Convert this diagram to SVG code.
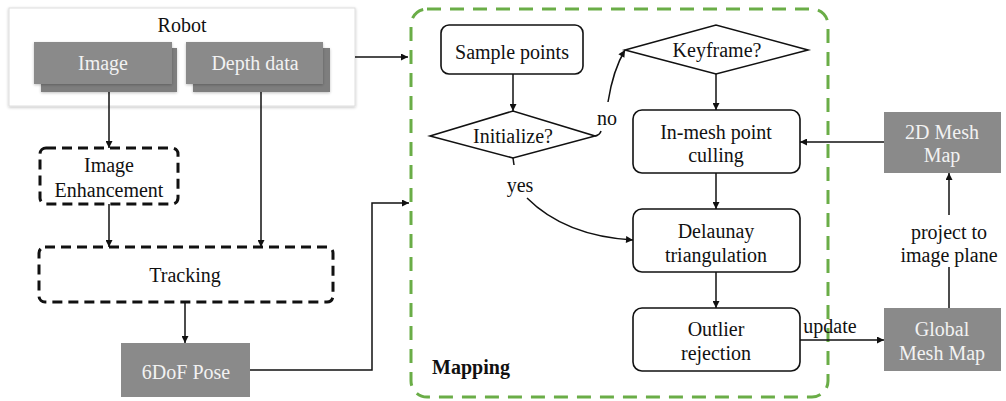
<svg xmlns="http://www.w3.org/2000/svg" width="1006" height="401" viewBox="0 0 1006 401">
  <style>
    text { font-family: "Liberation Serif", Tinos, "Times New Roman", Times, "DejaVu Serif", serif; font-size: 20px; text-anchor: middle; }
    .dark { fill: #111111; }
    .light { fill: #f2f2f2; }
    .gray { fill: #8a8a8a; }
    .shade { fill: #7e7e7e; }
    .proc { fill: #ffffff; stroke: #111111; stroke-width: 1.6; }
    .dash { fill: #ffffff; stroke: #111111; stroke-width: 3; stroke-dasharray: 10 6; }
    .wire { fill: none; stroke: #111111; stroke-width: 1.5; }
    .arrow { fill: none; stroke: #111111; stroke-width: 1.5; marker-end: url(#head); }
  </style>
  <defs>
    <marker id="head" viewBox="0 0 10 10" refX="10" refY="5" markerWidth="9" markerHeight="7" markerUnits="userSpaceOnUse" orient="auto">
      <path d="M0,0 L10,5 L0,10 Z" fill="#111111"/>
    </marker>
    <filter id="soft" x="-10%" y="-20%" width="120%" height="140%">
      <feGaussianBlur in="SourceAlpha" stdDeviation="1.5"/>
      <feOffset dx="0" dy="1" result="b"/>
      <feComponentTransfer><feFuncA type="linear" slope="0.25"/></feComponentTransfer>
      <feMerge><feMergeNode/><feMergeNode in="SourceGraphic"/></feMerge>
    </filter>
  </defs>

  <!-- Mapping container -->
  <g id="mapping">
    <rect x="411" y="9" width="417" height="388" rx="16" fill="none" stroke="#6aad47" stroke-width="3" stroke-dasharray="14 9"/>
    <text x="471" y="374" class="dark" font-weight="bold">Mapping</text>
  </g>

  <!-- Sensor sources -->
  <g id="robot">
    <rect x="9" y="8" width="346" height="98" fill="#ffffff" stroke="#dedede" stroke-width="1" filter="url(#soft)"/>
    <text x="182" y="32" class="dark">Robot</text>
  </g>
  <g id="image">
    <rect x="41" y="48" width="136" height="44" class="shade" filter="url(#soft)"/>
    <rect x="34" y="42" width="138" height="42" class="gray" filter="url(#soft)"/>
    <text x="103" y="70" class="light">Image</text>
  </g>
  <g id="depth">
    <rect x="193" y="48" width="137" height="44" class="shade" filter="url(#soft)"/>
    <rect x="186" y="42" width="137" height="42" class="gray" filter="url(#soft)"/>
    <text x="255" y="70" class="light">Depth data</text>
  </g>

  <!-- Tracking front-end -->
  <g id="enhancement">
    <rect x="40" y="148" width="138" height="56" rx="6" class="dash"/>
    <text x="109" y="172" class="dark">Image</text>
    <text x="109" y="197" class="dark">Enhancement</text>
  </g>
  <g id="tracking">
    <rect x="39" y="247" width="294" height="55" rx="6" class="dash"/>
    <text x="185" y="282" class="dark">Tracking</text>
  </g>
  <g id="pose">
    <rect x="121" y="343" width="129" height="54" class="gray"/>
    <text x="186" y="379" class="light">6DoF Pose</text>
  </g>

  <!-- Mapping steps -->
  <g id="sample">
    <rect x="441" y="25" width="142" height="49" rx="8" class="proc"/>
    <text x="512" y="59" class="dark">Sample points</text>
  </g>
  <g id="initialize">
    <polygon points="430,136 513,111 595,136 513,158" class="proc"/>
    <text x="513" y="143" class="dark">Initialize?</text>
  </g>
  <g id="keyframe">
    <polygon points="625,50 716,25 808,50 716,74" class="proc"/>
    <text x="717" y="57" class="dark">Keyframe?</text>
  </g>
  <g id="culling">
    <rect x="633" y="110" width="167" height="63" rx="9" class="proc"/>
    <text x="716" y="139" class="dark">In-mesh point</text>
    <text x="716" y="162" class="dark">culling</text>
  </g>
  <g id="delaunay">
    <rect x="633" y="209" width="167" height="63" rx="9" class="proc"/>
    <text x="716" y="238" class="dark">Delaunay</text>
    <text x="716" y="262" class="dark">triangulation</text>
  </g>
  <g id="outlier">
    <rect x="633" y="308" width="167" height="63" rx="9" class="proc"/>
    <text x="716" y="336" class="dark">Outlier</text>
    <text x="716" y="360" class="dark">rejection</text>
  </g>

  <!-- Map outputs -->
  <g id="mesh2d">
    <rect x="884" y="112" width="117" height="61" class="gray"/>
    <text x="942" y="139" class="light">2D Mesh</text>
    <text x="942" y="162" class="light">Map</text>
  </g>
  <g id="globalmap">
    <rect x="884" y="308" width="117" height="63" class="gray"/>
    <text x="942" y="336" class="light">Global</text>
    <text x="942" y="360" class="light">Mesh Map</text>
  </g>

  <!-- Connectors -->
  <g id="connectors">
    <path d="M355,57 H408" class="arrow"/>
    <path d="M109,92 V148" class="arrow"/>
    <path d="M109,204 V247" class="arrow"/>
    <path d="M261,92 V247" class="arrow"/>
    <path d="M185,302 V343" class="arrow"/>
    <path d="M250,370 H372 V203 H409" class="arrow"/>
    <path d="M513,74 V111" class="arrow"/>
    <path d="M595,136 Q600,135 601,131" class="wire"/>
    <path d="M608,102 Q613,70 625,50" class="arrow"/>
    <text x="607" y="125" class="dark">no</text>
    <path d="M513,158 L514,165" class="wire"/>
    <text x="520" y="192" class="dark">yes</text>
    <path d="M527,198 Q565,236 633,240" class="arrow"/>
    <path d="M716,74 V110" class="arrow"/>
    <path d="M716,173 V209" class="arrow"/>
    <path d="M716,272 V308" class="arrow"/>
    <path d="M800,340 H884" class="arrow"/>
    <text x="830" y="333" class="dark">update</text>
    <path d="M949,308 V267" class="wire"/>
    <path d="M949,215 V173" class="arrow"/>
    <text x="949" y="239" class="dark">project to</text>
    <text x="949" y="262" class="dark">image plane</text>
    <path d="M884,142 H800" class="arrow"/>
  </g>
</svg>
